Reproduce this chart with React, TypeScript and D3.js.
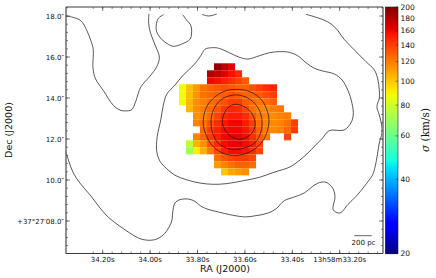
import React, { useEffect, useRef } from "react";
import * as d3 from "d3";

const raTicks = [34.2, 34.0, 33.8, 33.6, 33.4, 33.2];
const raLabels = ["34.20s", "34.00s", "33.80s", "33.60s", "33.40s", "13h58m33.20s"];
const decTicks = [18, 16, 14, 12, 10, 8];
const decLabels = ["18.0″", "16.0″", "14.0″", "12.0″", "10.0″", "+37°27′08.0″"];
const sigmaTicks = [20, 40, 60, 80, 100, 120, 140, 160, 180, 200];

// first column of each row of the velocity dispersion map, then its values
const rowStart = [5, 4, 4, 0, 0, 0, 1, 2, 2, 3, 2, 1, 1, 5, 5, 6];
const sigmaRows = [
  [192, 178, 165],
  [180, 175, 165, 157, 148],
  [160, 157, 150, 144, 138, 130],
  [88, 102, 112, 124, 128, 131, 134, 131, 128, 128, 134, 139, 145, 150],
  [88, 103, 114, 124, 126, 128, 130, 134, 130, 128, 128, 130, 135, 140],
  [88, 104, 115, 120, 124, 128, 134, 140, 140, 130, 125, 122, 125, 130],
  [104, 115, 120, 126, 132, 142, 148, 146, 136, 124, 118, 116, 120, 122],
  [115, 120, 126, 138, 148, 152, 152, 146, 132, 122, 118, 116, 118, 120],
  [118, 124, 134, 146, 155, 160, 160, 152, 138, 124, 118, 116, 118, 124, 140],
  [128, 140, 150, 158, 160, 160, 155, 142, 128, 120, 116, 118, 126, 140],
  [118, 128, 142, 152, 160, 162, 162, 158, 145, 130, 122, null, null, 138],
  [77, 105, 115, 132, 146, 158, 162, 162, 158, 150, 138],
  [70, 90, 106, 122, 136, 150, 158, 158, 155, 146, 136],
  [125, 132, 138, 140, 140, 136],
  [112, 118, 124, 128, 128, 124],
  [100, 108, 112, 115],
];

const outerNorthWest = [
  [34.356, 18.0], [34.327, 17.94], [34.292, 17.77], [34.268, 17.32], [34.251, 16.83],
  [34.24, 16.38], [34.241, 15.45], [34.23, 14.93], [34.197, 14.36], [34.155, 13.64],
  [34.127, 13.41], [34.106, 13.37], [34.078, 13.43], [34.061, 13.82], [34.04, 14.52],
  [34.0, 15.07], [33.972, 15.53], [33.961, 15.99], [33.979, 16.59], [33.998, 17.16],
  [34.006, 17.64], [34.005, 18.1],
];
const topArc = [[33.78, 18.08], [33.761, 18.01], [33.744, 18.01], [33.719, 18.1]];
const topLoop = [
  [33.944, 18.06], [33.965, 17.89], [33.974, 17.56], [33.972, 17.23], [33.951, 16.86],
  [33.923, 16.62], [33.902, 16.52], [33.867, 16.63], [33.832, 16.86], [33.825, 17.16],
  [33.829, 17.56], [33.846, 17.8], [33.862, 18.06],
];
const outerSouthEast = [
  [33.342, 18.08], [33.3, 17.94], [33.251, 17.72], [33.216, 17.4], [33.181, 16.86],
  [33.131, 16.26], [33.089, 15.77], [33.054, 15.37], [33.04, 14.96], [33.033, 14.39],
  [33.033, 13.99], [33.043, 13.58], [33.033, 13.17], [33.023, 12.68], [33.022, 12.28],
  [33.033, 11.8], [33.041, 11.23], [33.05, 10.67], [33.061, 10.26], [33.096, 9.69],
  [33.131, 9.2], [33.166, 8.8], [33.199, 8.39], [33.227, 8.54], [33.22, 9.2],
  [33.23, 9.61], [33.258, 9.89], [33.286, 9.87], [33.314, 9.69], [33.349, 9.37],
  [33.392, 9.17], [33.434, 8.99], [33.469, 8.59], [33.504, 8.38], [33.553, 8.26],
  [33.598, 8.2], [33.651, 8.28], [33.722, 8.47], [33.761, 8.59], [33.789, 8.75],
  [33.811, 8.96], [33.839, 9.07], [33.874, 9.04], [33.895, 8.88], [33.905, 8.39],
  [33.909, 7.99], [33.937, 7.41], [33.972, 7.12], [34.008, 7.06], [34.043, 7.14],
  [34.085, 7.41], [34.127, 7.74], [34.176, 8.18], [34.211, 8.63], [34.254, 9.28],
  [34.296, 9.85], [34.324, 10.34], [34.345, 10.99], [34.356, 11.4],
];
const midContour = [
  [33.719, 16.45], [33.744, 16.45], [33.768, 16.38], [33.789, 16.01], [33.818, 15.58],
  [33.86, 15.12], [33.895, 14.63], [33.93, 14.18], [33.944, 13.66], [33.955, 12.93],
  [33.97, 12.11], [33.972, 11.4], [33.958, 10.91], [33.93, 10.55], [33.895, 10.23],
  [33.846, 10.01], [33.789, 9.85], [33.733, 9.79], [33.68, 9.82], [33.595, 9.99],
  [33.539, 10.13], [33.476, 10.38], [33.413, 10.62], [33.384, 10.83], [33.342, 11.23],
  [33.3, 11.72], [33.272, 12.05], [33.244, 12.41], [33.181, 12.44], [33.152, 12.8],
  [33.143, 13.17], [33.148, 13.74], [33.166, 14.39], [33.19, 14.88], [33.223, 15.17],
  [33.272, 15.32], [33.307, 15.45], [33.342, 15.72], [33.377, 16.06], [33.413, 16.23],
  [33.455, 16.26], [33.497, 16.21], [33.539, 16.06], [33.588, 15.9], [33.624, 15.99],
  [33.666, 16.21], [33.701, 16.39], [33.719, 16.45],
];
const ringOuter = [
  [33.638, 14.42], [33.579, 14.31], [33.529, 13.9], [33.501, 13.17], [33.501, 12.6],
  [33.522, 11.95], [33.565, 11.46], [33.621, 11.22], [33.684, 11.27], [33.733, 11.62],
  [33.764, 12.2], [33.776, 12.84], [33.761, 13.58], [33.726, 14.06], [33.684, 14.34],
];
const ringMiddle = [
  [33.638, 14.15], [33.586, 13.99], [33.548, 13.58], [33.529, 13.01], [33.532, 12.36],
  [33.557, 11.82], [33.607, 11.55], [33.663, 11.51], [33.712, 11.79], [33.738, 12.36],
  [33.742, 13.01], [33.726, 13.58], [33.691, 13.99],
];
const ringInner = [
  [33.632, 13.69], [33.592, 13.5], [33.567, 13.17], [33.557, 12.68], [33.571, 12.28],
  [33.614, 11.99], [33.656, 12.11], [33.684, 12.44], [33.695, 12.84], [33.684, 13.33],
  [33.663, 13.61],
];

const openContours = [outerNorthWest, topArc, topLoop, outerSouthEast];
const closedContours = [midContour, ringOuter, ringMiddle, ringInner];

// matplotlib's jet colormap, segment by segment
const jetR = d3.scaleLinear([0, 0.35, 0.66, 0.89, 1], [0, 0, 1, 1, 0.5]).clamp(true);
const jetG = d3.scaleLinear([0, 0.125, 0.375, 0.64, 0.91, 1], [0, 0, 1, 1, 0, 0]).clamp(true);
const jetB = d3.scaleLinear([0, 0.11, 0.34, 0.65, 1], [0.5, 1, 1, 0, 0]).clamp(true);
const jet = (t: number) =>
  d3.rgb(jetR(t) * 255, jetG(t) * 255, jetB(t) * 255).formatRgb();

export default function App() {
  const svgRef = useRef<SVGSVGElement>(null);

  useEffect(() => {
    const width = 436;
    const height = 278;
    const left = 66;
    const right = 383;
    const top = 7;
    const bottom = 253.5;
    const cbLeft = 385.3;
    const cbRight = 398;
    const fontFamily = "'DejaVu Sans', sans-serif";

    const svg = d3.select(svgRef.current);
    svg.selectAll("*").remove();
    svg.attr("width", width).attr("height", height);

    const x = d3.scaleLinear().domain([34.2, 33.2]).range([102.7, 339.7]);
    const y = d3.scaleLinear().domain([18, 8]).range([16, 221]);
    const sigmaNorm = d3.scaleLog().domain([20, 200]).range([0, 1]);
    const sigmaY = d3.scaleLog().domain([20, 200]).range([bottom, top]);

    // map cells sit on their own pixel grid
    const colX = d3.scaleLinear().domain([0, 1]).range([179, 186]);
    const rowY = d3.scaleLinear().domain([0, 1]).range([63.3, 70.3]);

    const cells = sigmaRows.flatMap((row, r) =>
      row.map((value, i) => ({ r, c: rowStart[r] + i, value }))
    ).filter((d) => d.value !== null);
    svg
      .append("g")
      .selectAll("rect")
      .data(cells)
      .join("rect")
      .attr("x", (d) => colX(d.c))
      .attr("y", (d) => rowY(d.r))
      .attr("width", 7.05)
      .attr("height", 7.05)
      .attr("fill", (d) => jet(sigmaNorm(d.value)));

    const line = d3
      .line()
      .x((d) => x(d[0]))
      .y((d) => y(d[1]))
      .curve(d3.curveCatmullRom.alpha(0.5));
    const closedLine = d3
      .line()
      .x((d) => x(d[0]))
      .y((d) => y(d[1]))
      .curve(d3.curveCatmullRomClosed.alpha(0.5));

    const contours = svg.append("g").attr("fill", "none").attr("stroke", "#111").attr("stroke-width", 0.7);
    openContours.forEach((c) => contours.append("path").attr("d", line(c as any)));
    closedContours.forEach((c) => contours.append("path").attr("d", closedLine(c as any)));

    // frame: the grey sides are thick in the original
    const frame = svg.append("g");
    frame.append("path")
      .attr("d", `M${left},${bottom}V${top}`)
      .attr("stroke", "#777").attr("stroke-width", 1.6).attr("fill", "none");
    frame.append("path")
      .attr("d", `M${right},${top}V${bottom}`)
      .attr("stroke", "#888").attr("stroke-width", 1.8).attr("fill", "none");
    frame.append("path")
      .attr("d", `M${left},${top}H${right}M${left},${bottom}H${right}`)
      .attr("stroke", "#222").attr("stroke-width", 0.9).attr("fill", "none");

    const raMinor = d3.range(-1, 32).map((i) => 34.2 - i * 0.04).filter((v) => x(v) > left && x(v) < right);
    const decMinor = d3.range(-2, 56).map((i) => 18.4 - i * 0.4).filter((v) => y(v) > top && y(v) < bottom);

    const tickLines = svg.append("g").attr("stroke", "#333").attr("stroke-width", 0.6);
    raTicks.forEach((v) => {
      tickLines.append("line").attr("x1", x(v)).attr("x2", x(v)).attr("y1", bottom).attr("y2", bottom - 4);
      tickLines.append("line").attr("x1", x(v)).attr("x2", x(v)).attr("y1", top).attr("y2", top + 4);
    });
    raMinor.forEach((v) => {
      tickLines.append("line").attr("x1", x(v)).attr("x2", x(v)).attr("y1", bottom).attr("y2", bottom - 2);
      tickLines.append("line").attr("x1", x(v)).attr("x2", x(v)).attr("y1", top).attr("y2", top + 2);
    });
    decTicks.forEach((v) => {
      tickLines.append("line").attr("x1", left).attr("x2", left + 4).attr("y1", y(v)).attr("y2", y(v));
      tickLines.append("line").attr("x1", right).attr("x2", right - 4).attr("y1", y(v)).attr("y2", y(v));
    });
    decMinor.forEach((v) => {
      tickLines.append("line").attr("x1", left).attr("x2", left + 2).attr("y1", y(v)).attr("y2", y(v));
      tickLines.append("line").attr("x1", right).attr("x2", right - 2).attr("y1", y(v)).attr("y2", y(v));
    });

    const raAxis = svg.append("g").attr("font-family", fontFamily).attr("font-size", 7).attr("fill", "#111");
    raTicks.forEach((v, i) => {
      raAxis.append("text").attr("x", x(v)).attr("y", 262).attr("text-anchor", "middle").text(raLabels[i]);
    });
    const decAxis = svg.append("g").attr("font-family", fontFamily).attr("font-size", 7).attr("fill", "#111");
    decTicks.forEach((v, i) => {
      decAxis.append("text").attr("x", 64).attr("y", y(v) + 2.5).attr("text-anchor", "end").text(decLabels[i]);
    });

    svg.append("text").attr("x", 225).attr("y", 272).attr("text-anchor", "middle")
      .attr("font-family", fontFamily).attr("font-size", 9.5).attr("fill", "#111").text("RA (J2000)");
    svg.append("text").attr("transform", "translate(12,130) rotate(-90)").attr("text-anchor", "middle")
      .attr("font-family", fontFamily).attr("font-size", 9.5).attr("fill", "#111").text("Dec (J2000)");

    // scale bar
    svg.append("line").attr("x1", 354.3).attr("x2", 371.7).attr("y1", 235.7).attr("y2", 235.7)
      .attr("stroke", "#555").attr("stroke-width", 0.9);
    svg.append("text").attr("x", 363.5).attr("y", 244.5).attr("text-anchor", "middle")
      .attr("font-family", fontFamily).attr("font-size", 7).attr("fill", "#111").text("200 pc");

    // colorbar
    const cb = svg.append("g");
    cb.selectAll("rect")
      .data(d3.range(top, bottom, 1))
      .join("rect")
      .attr("x", cbLeft)
      .attr("y", (d) => d)
      .attr("width", cbRight - cbLeft)
      .attr("height", 1.1)
      .attr("fill", (d) => jet(sigmaNorm(sigmaY.invert(d + 0.5))));
    cb.append("rect").attr("x", cbLeft).attr("y", top).attr("width", cbRight - cbLeft).attr("height", bottom - top)
      .attr("fill", "none").attr("stroke", "#222").attr("stroke-width", 0.6);
    sigmaTicks.forEach((v) => {
      cb.append("line").attr("x1", cbRight - 2.5).attr("x2", cbRight).attr("y1", sigmaY(v)).attr("y2", sigmaY(v))
        .attr("stroke", "#222").attr("stroke-width", 0.5);
      cb.append("text").attr("x", 400.5).attr("y", sigmaY(v) + 2.6)
        .attr("font-family", fontFamily).attr("font-size", 7.5).attr("fill", "#111").text(v);
    });
    const cbLabel = svg.append("text").attr("transform", "translate(429,130) rotate(-90)").attr("text-anchor", "middle")
      .attr("font-family", "'DejaVu Serif', serif").attr("font-size", 10.5).attr("fill", "#111");
    cbLabel.append("tspan").attr("font-style", "italic").text("σ");
    cbLabel.append("tspan").text(" (km/s)");
  }, []);

  return <svg ref={svgRef} style={{ position: "absolute", left: 0, top: 0, background: "white" }} />;
}
